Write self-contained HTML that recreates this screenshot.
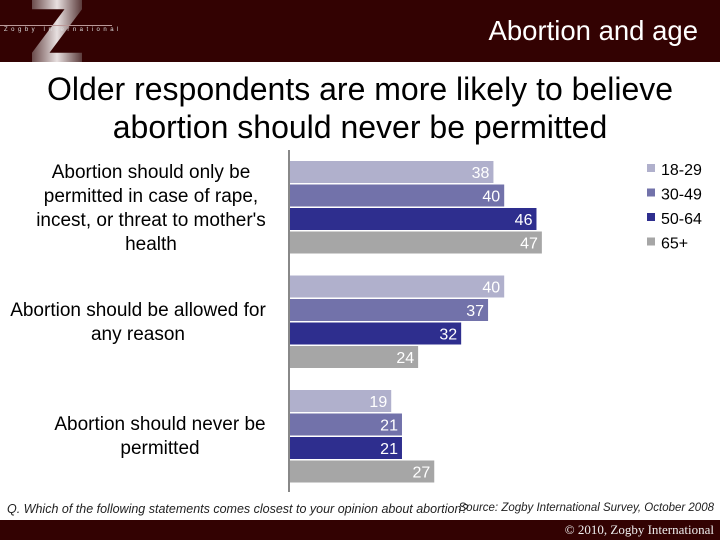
<!DOCTYPE html>
<html><head><meta charset="utf-8"><style>
body{margin:0;width:720px;height:540px;position:relative;background:#fff;font-family:"Liberation Sans",sans-serif;overflow:hidden}
.abs{position:absolute}
.cat{position:absolute;text-align:center;font-size:19px;color:#000;line-height:24px}
</style></head><body>
<div class="abs" style="left:0;top:0;width:720px;height:62px;background:#330202"></div>
<div class="abs" style="left:32px;top:0px;width:50px;height:62px;background:linear-gradient(90deg,#6a4a4a,#e8e0e0 50%,#5a3a3a);clip-path:polygon(0 0,100% 0,100% 15%,35% 85%,100% 85%,100% 100%,0 100%,0 85%,65% 15%,0 15%)"></div>
<div class="abs" style="left:0;top:25px;width:112px;height:1px;background:#b99"></div>
<div class="abs" style="left:4px;top:27px;font-size:6px;letter-spacing:3.5px;color:#ddd">Zogby International</div>
<div class="abs" style="right:22px;top:15px;font-size:27.5px;color:#fff">Abortion and age</div>
<div class="abs" style="left:0;width:720px;top:70px;text-align:center;font-size:32px;line-height:38px;color:#000">Older respondents are more likely to believe<br>abortion should never be permitted</div>
<div class="cat" style="left:22px;width:258px;top:161px">Abortion should only be permitted in case of rape, incest, or threat to mother's health</div>
<div class="cat" style="left:0px;width:276px;top:299px">Abortion should be allowed for any reason</div>
<div class="cat" style="left:40px;width:240px;top:413px">Abortion should never be permitted</div>
<svg class="abs" id="chart" style="left:0;top:0" width="720" height="540"></svg>
<div class="abs" style="left:7px;top:502px;font-size:12.5px;font-style:italic;color:#222">Q. Which of the following statements comes closest to your opinion about abortion? </div>
<div class="abs" style="right:6px;top:502px;font-size:11.5px;font-style:italic;color:#222">Source: Zogby International Survey, October 2008</div>
<div class="abs" style="left:0;top:520px;width:720px;height:20px;background:#330202"></div>
<div class="abs" style="right:6px;top:522px;font:13px 'Liberation Serif',serif;color:#eee">© 2010, Zogby International</div>
<script>
const categories=["Abortion should only be permitted in case of rape, incest, or threat to mother's health","Abortion should be allowed for any reason","Abortion should never be permitted"];
const seriesNames=["18-29","30-49","50-64","65+"];
const s1829=[38,40,19];
const s3049=[40,37,21];
const s5064=[46,32,21];
const s65=[47,24,27];
const series=[s1829,s3049,s5064,s65];
const colors=["#b0b0cc","#7272aa","#2e2e8e","#a6a6a6"];
const NS="http://www.w3.org/2000/svg";
const svg=document.getElementById('chart');
const x0=289, pxPer=5.38;
const x=v=>x0+v*pxPer;
const groupY=g=>161+g*114.5;
const barY=(g,s)=>groupY(g)+s*23.5;
function mk(t,a){const e=document.createElementNS(NS,t);for(const k in a)e.setAttribute(k,a[k]);svg.appendChild(e);return e;}
categories.forEach((c,g)=>{
  series.forEach((arr,s)=>{
    const r=mk('rect',{x:x0,y:barY(g,s),width:x(arr[g])-x0,height:22,fill:colors[s]});
    
    
    const t=mk('text',{x:x(arr[g])-4,y:barY(g,s)+17,'text-anchor':'end','font-size':16,fill:'#fff','font-family':'Liberation Sans, sans-serif'});
    t.textContent=arr[g];
    
    
  });
});
const ax=mk('line',{x1:x0,y1:150,x2:x0,y2:492,stroke:'#888','stroke-width':2});


seriesNames.forEach((n,i)=>{
  const r=mk('rect',{x:647,y:164+i*24.5,width:8,height:8,fill:colors[i]});
  
  
  const t=mk('text',{x:661,y:175+i*24.5,'font-size':16,fill:'#000','font-family':'Liberation Sans, sans-serif'});
  t.textContent=n;
  
  
});
</script>
</body></html>
